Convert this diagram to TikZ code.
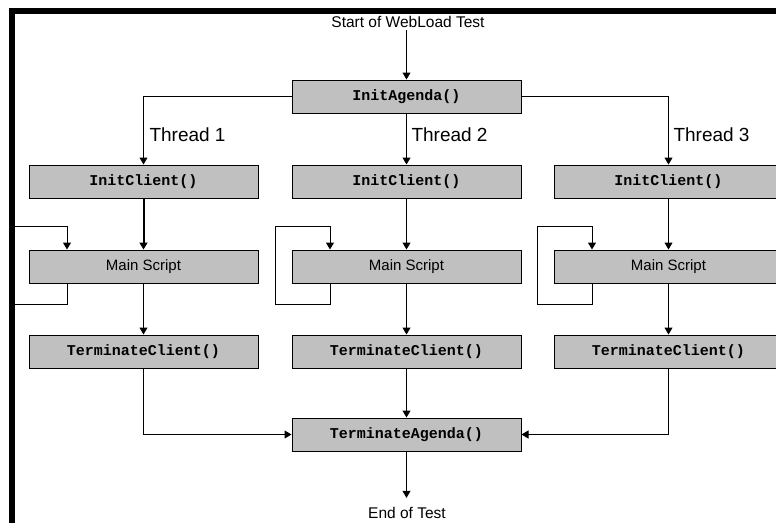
\documentclass[tikz,border=0pt]{standalone}
\usepackage{fontspec}
\setmainfont{Liberation Sans}
\newfontfamily\codefont{Liberation Mono}
\usetikzlibrary{arrows.meta,positioning}
\definecolor{boxgray}{HTML}{C0C0C0}

\begin{document}
\begin{tikzpicture}[
    x=1pt, y=-1pt,
    line width=1pt,
    call/.style={draw, fill=boxgray, minimum width=229pt, minimum height=33pt, inner sep=0pt, font=\codefont\bfseries\fontsize{15}{15}\selectfont},
    script/.style={call, font=\fontsize{15}{15}\selectfont},
    lbl/.style={font=\fontsize{15.5}{16}\selectfont, inner sep=0pt},
    thread/.style={font=\fontsize{19}{19}\selectfont, anchor=west, inner sep=0pt},
    arrow/.style={-{Triangle[length=7pt, width=8pt]}}
]
\useasboundingbox (0,0) rectangle (776,523);
\clip (0,0) rectangle (776,523);

% window frame
\fill (9,8) rectangle (776,14);
\fill (9,8) rectangle (15,523);

\node[lbl] (start) at (408,22) {Start of WebLoad Test};
\node[call] (agenda) at (406.5,96.5) {InitAgenda()};

% threads
\node[call] (init1) at (143.5,181.5) {InitClient()};
\node[call] (init2) at (406.5,181.5) {InitClient()};
\node[call] (init3) at (668.5,181.5) {InitClient()};
\node[script, below=51pt of init1] (main1) {Main Script};
\node[script, below=51pt of init2] (main2) {Main Script};
\node[script, below=51pt of init3] (main3) {Main Script};
\node[call, below=51pt of main1] (term1) {TerminateClient()};
\node[call, below=51pt of main2] (term2) {TerminateClient()};
\node[call, below=51pt of main3] (term3) {TerminateClient()};

\node[call] (endagenda) at (406.5,434.5) {TerminateAgenda()};
\node[lbl] (endtest) at (407,513) {End of Test};

\node[thread] (t1) at (149,135) {Thread 1};
\node[thread] (t2) at (411,135) {Thread 2};
\node[thread] (t3) at (673,135) {Thread 3};

\draw[arrow] ([yshift=-2pt]agenda.north |- start.south) -- (agenda.north);
\draw[arrow] (agenda.west) -| (init1.north);
\draw[arrow] (agenda) -- (init2);
\draw[arrow] (agenda.east) -| (init3.north);

\draw[arrow, line width=2pt] (init1) -- (main1);
\draw[arrow] (init2) -- (main2);
\draw[arrow] (init3) -- (main3);

% script loops
\foreach \m in {main1,main2,main3}
  \draw[arrow] ([xshift=-76.5pt]\m.south) -- ++(0,21) -| ++(-55,-78) -| ([xshift=-76.5pt]\m.north);

\draw[arrow] (main1) -- (term1);
\draw[arrow] (main2) -- (term2);
\draw[arrow] (main3) -- (term3);

\draw[arrow] (term1.south) |- (endagenda.west);
\draw[arrow] (term2) -- (endagenda);
\draw[arrow] (term3.south) |- (endagenda.east);
\draw[arrow] (endagenda.south) -- ([yshift=9pt]endagenda.south |- endtest.north);
\end{tikzpicture}
\end{document}
